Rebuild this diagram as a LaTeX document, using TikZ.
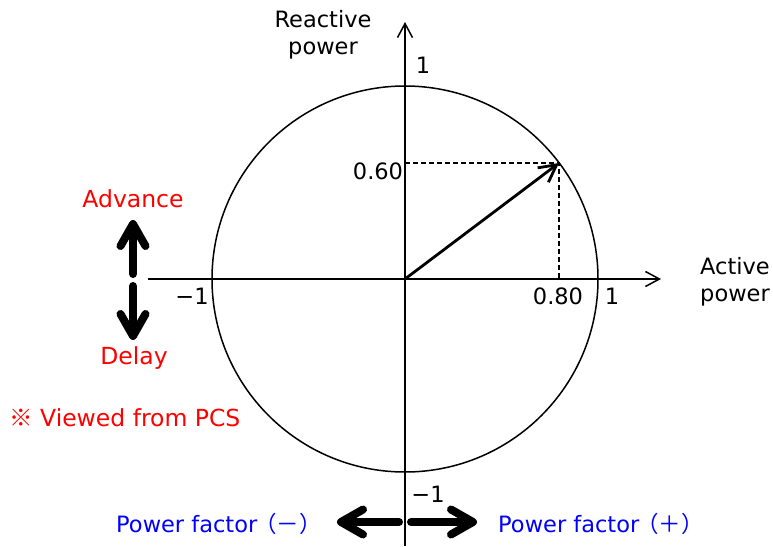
\documentclass[tikz,border=0pt]{standalone}
\usepackage{fontspec}
\setmainfont{DejaVu Sans}
\newfontfamily\cjk{Noto Sans CJK JP}
\usetikzlibrary{arrows.meta}
\begin{document}
\begin{tikzpicture}[x=1pt,y=-1pt,
  axis/.style={line width=1.5pt,-{Straight Barb[length=14pt,width=15pt]}},
  circ/.style={line width=1.5pt},
  dsh/.style={line width=1.2pt,dash pattern=on 5pt off 3pt},
  vec/.style={line width=2.8pt,-{Straight Barb[length=17pt,width=18pt]}},
  thick arrow/.style={line width=8pt,line cap=round,-{Straight Barb[length=22pt,width=25pt,line cap=round,line join=round]}},
  lbl/.style={font=\fontsize{22.5}{27}\selectfont,inner sep=0pt,align=center},
  num/.style={font=\fontsize{22.5}{27}\selectfont,inner sep=0pt},
  redtxt/.style={font=\fontsize{23.5}{27}\selectfont,inner sep=0pt,text=red},
  bluetxt/.style={font=\fontsize{22.5}{27}\selectfont,inner sep=0pt,text=blue}]
\useasboundingbox[fill=white] (0,0) rectangle (773,546);
% axes and circle
\coordinate (O) at (405,279);
\coordinate (ytop) at (405,22);
\coordinate (ybot) at (405,546);
\coordinate (xl) at (148,279);
\coordinate (xr) at (661,279);
\draw[axis] (ybot) -- (ytop);
\draw[axis] (xl) -- (xr);
\draw[circ] (O) circle[radius=193];
% vector
\coordinate (P) at (559,163);
\coordinate (Py) at (405,163);
\coordinate (Px) at (559,279);
\draw[dsh] (Py) -- (P) -- (Px);
\draw[vec] (O) -- (P);
% labels
\node[lbl] (rp) at (323,35) {Reactive\\power};
\node[lbl] (ap) at (735,282) {Active\\power};
\node[num] (one1) at (423,65) {1};
\node[num] (v060) at (378,171) {0.60};
\node[num] (v080) at (558,296) {0.80};
\node[num] (one2) at (612,296) {1};
\node[num] (m1a) at (192,296) {−1};
\node[num] (m1b) at (428,494) {−1};
% advance / delay
\node[redtxt] (adv) at (133,199) {Advance};
\node[redtxt] (del) at (134,358) {Delay};
\coordinate (ua) at (133,274);
\coordinate (ub) at (133,220);
\coordinate (da) at (133,286);
\coordinate (db) at (133,340);
\draw[thick arrow] (ua) -- (ub);
\draw[thick arrow] (da) -- (db);
\node[redtxt,anchor=west] (pcs) at (9,418) {{\cjk ※} Viewed from PCS};
% power factor
\coordinate (la) at (399,522);
\coordinate (lb) at (337,522);
\coordinate (ra) at (411,522);
\coordinate (rb) at (477,522);
\draw[thick arrow] (la) -- (lb);
\draw[thick arrow] (ra) -- (rb);
\node[bluetxt,anchor=east] (pfm) at (322,524) {Power factor\kern-3pt{\cjk （－）}};
\node[bluetxt,anchor=west] (pfp) at (498,524) {Power factor\kern-3pt{\cjk （＋）}};
\end{tikzpicture}
\end{document}
